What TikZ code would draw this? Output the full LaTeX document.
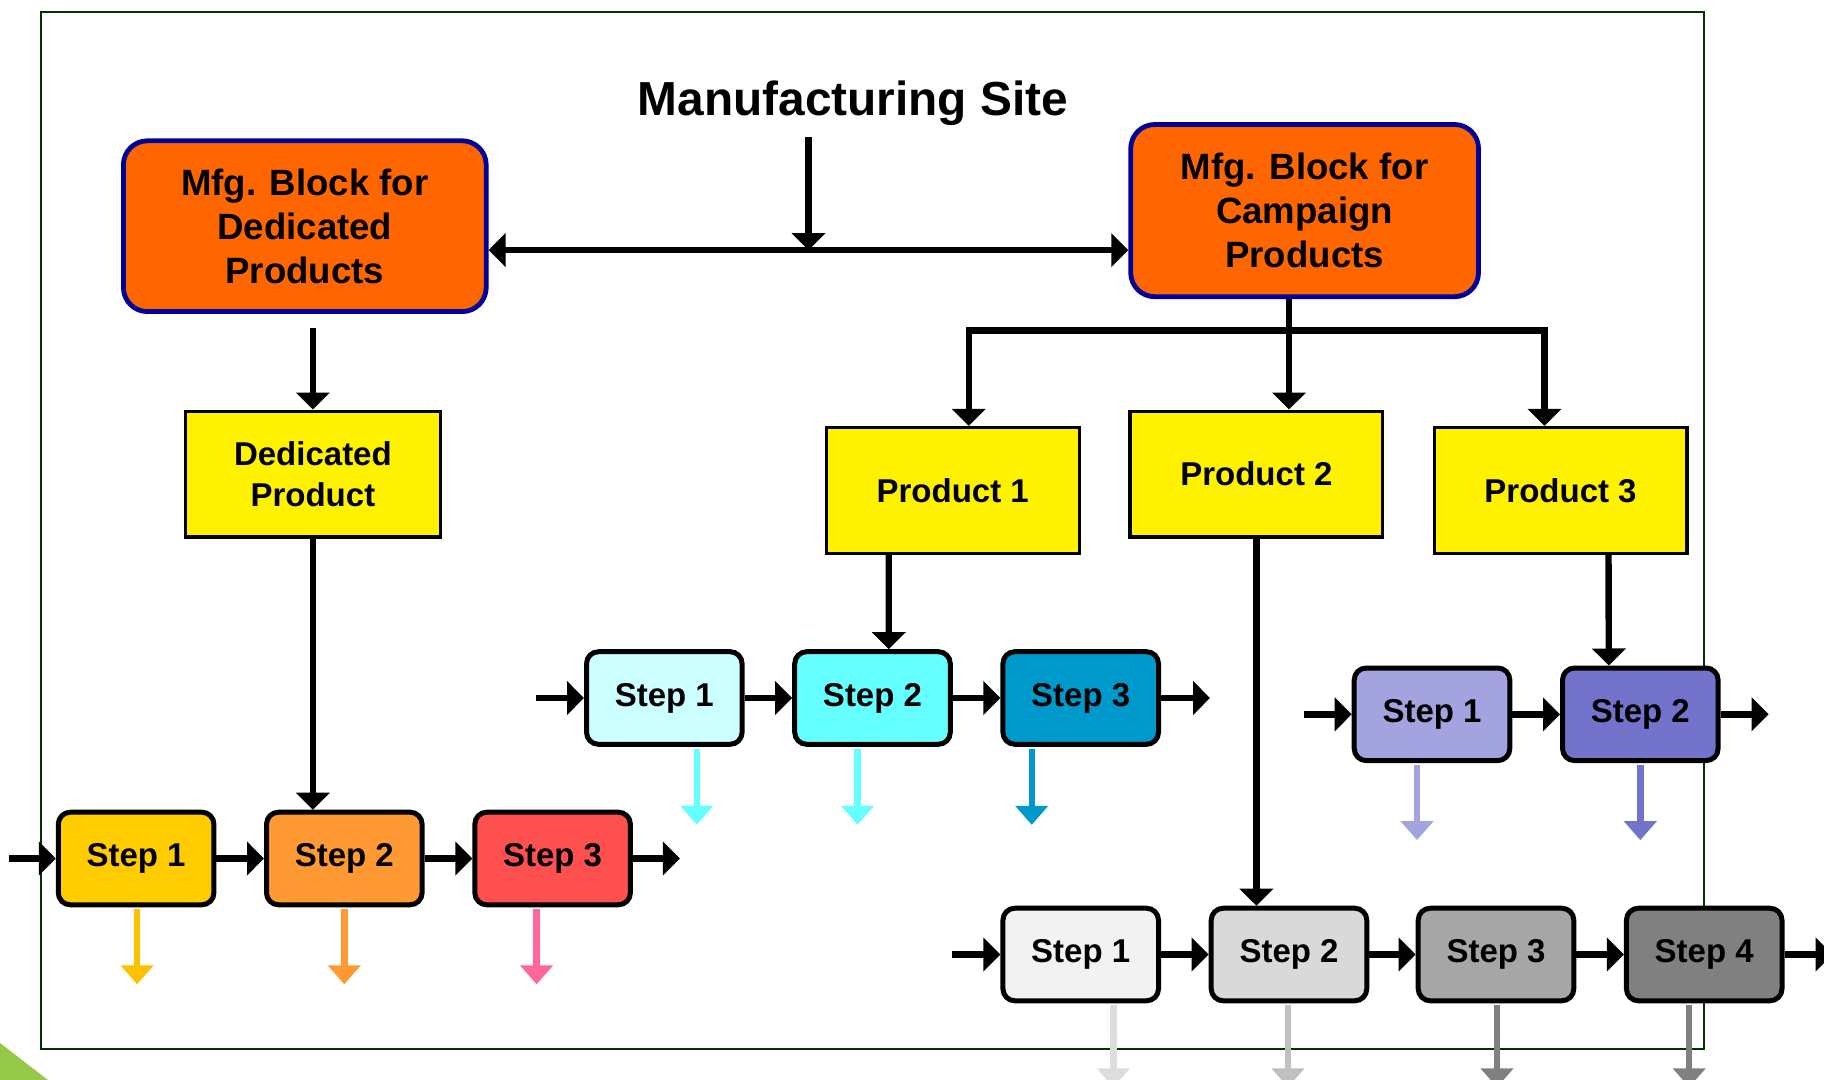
\documentclass[tikz,border=0pt]{standalone}
\usepackage{fontspec}
\setmainfont{Liberation Sans}
\usetikzlibrary{arrows.meta,calc}
\definecolor{mfgorange}{HTML}{FF6600}
\definecolor{mfgblue}{HTML}{000099}
\definecolor{frameg}{HTML}{003300}
\definecolor{leafg}{HTML}{96C84A}
\definecolor{dsa}{HTML}{FFCC00}
\definecolor{dsb}{HTML}{FF9933}
\definecolor{dsc}{HTML}{FF5050}
\definecolor{dda}{HTML}{FFC000}
\definecolor{ddc}{HTML}{FF6699}
\definecolor{csa}{HTML}{CCFFFF}
\definecolor{csb}{HTML}{66FFFF}
\definecolor{csc}{HTML}{0099CC}
\definecolor{vsa}{HTML}{A3A3E0}
\definecolor{vsb}{HTML}{7373CC}
\definecolor{gsa}{HTML}{F2F2F2}
\definecolor{gsb}{HTML}{D9D9D9}
\definecolor{gsc}{HTML}{A6A6A6}
\definecolor{gsd}{HTML}{808080}
\definecolor{gda}{HTML}{DDDDDD}
\definecolor{gdb}{HTML}{C0C0C0}
\tikzset{
  % orange block with navy rim
  blockbox/.style = {rectangle, rounded corners=12pt, draw=mfgblue, fill=mfgorange, line width=2.4pt,
                     align=center, font=\bfseries\fontsize{18.3}{22}\selectfont},
  prodbox/.style  = {rectangle, draw=black, fill=yellow, line width=1.6pt, align=center,
                     minimum width=126.4pt, minimum height=62.9pt, font=\bfseries\fontsize{16.5}{20.4}\selectfont},
  stepbox/.style  = {rectangle, rounded corners=6pt, draw=black, fill=#1, line width=2.5pt,
                     minimum width=77.8pt, minimum height=46.3pt, font=\bfseries\fontsize{16.5}{20}\selectfont},
  sitetitle/.style = {anchor=base, font=\bfseries\fontsize{23.9}{28}\selectfont},
  arr/.style    = {-{Triangle[length=8.5pt,width=16.5pt]}, line width=3.2pt},
  dblarr/.style = {{Triangle[length=8.5pt,width=16.5pt]}-{Triangle[length=8.5pt,width=16.5pt]}, line width=3.2pt},
  drain/.style  = {-{Triangle[length=9.5pt,width=16pt]}, line width=3.2pt, draw=#1},
  frame/.style  = {draw=frameg, line width=1pt},
}
\begin{document}
\begin{tikzpicture}[x=0.5pt, y=-0.5pt]
\useasboundingbox (0,0) rectangle (1824,1080);
\clip (0,0) rectangle (1824,1080);
\fill[leafg] (0,1043) -- (48,1080) -- (0,1080) -- cycle;
\draw[frame] (41,12) rectangle (1704,1049);

\node[sitetitle] (site) at (853,116) {Manufacturing Site};
\node[blockbox, minimum width=181.4pt, minimum height=85.4pt] (lblk) at (304.8,226.2) {Mfg. Block for\\Dedicated\\Products};
\node[blockbox, minimum width=173.9pt, minimum height=86.1pt] (rblk) at (1304.6,210.6) {Mfg. Block for\\Campaign\\Products};

\node[prodbox, minimum width=127.5pt] (ded) at (312.9,474) {Dedicated\\Product};
\node[prodbox] (p1) at (952.7,490.4) {Product 1};
\node[prodbox] (p2) at (1256.4,474) {Product 2};
\node[prodbox] (p3) at (1560.5,490.4) {Product 3};

% dedicated line
\node[stepbox=dsa] (d1) at (136.1,858.5) {Step 1};
\node[stepbox=dsb] (d2) at (344.3,858.5) {Step 2};
\node[stepbox=dsc] (d3) at (552.6,858.5) {Step 3};
% product 1 line
\node[stepbox=csa] (c1) at (664.3,698) {Step 1};
\node[stepbox=csb] (c2) at (872.5,698) {Step 2};
\node[stepbox=csc] (c3) at (1080.7,698) {Step 3};
% product 3 line
\node[stepbox=vsa] (v1) at (1432,714.3) {Step 1};
\node[stepbox=vsb] (v2) at (1640.3,714.3) {Step 2};
% product 2 line
\node[stepbox=gsa] (g1) at (1080.7,954.5) {Step 1};
\node[stepbox=gsb] (g2) at (1289,954.5) {Step 2};
\node[stepbox=gsc] (g3) at (1496,954.5) {Step 3};
\node[stepbox=gsd] (g4) at (1704.2,954.5) {Step 4};

% site splits to both blocks
\coordinate (top) at (808.5,137);
\coordinate (hub) at (808.5,250.1);
\draw[dblarr] (hub -| lblk.east) -- (hub -| rblk.west);
\draw[arr] (top) -- (hub);

\draw[arr] ($(lblk.south -| ded.north)+(0,14)$) -- (ded.north);
\draw[arr] (ded.south) -- (ded.south |- d2.north);

\coordinate (fork) at (1289,330.4);
\draw[arr] (rblk.south -| fork) -- (fork |- p2.north);
\draw[arr, line join=miter] (fork) -| ($(p1.north)+(16,0)$);
\draw[arr, line join=miter] (fork) -| ($(p3.north)+(-16,0)$);

\draw[arr] ($(p1.south)+(-64,0)$) -- ($(c2.north)+(16.3,0)$);
\draw[arr] (p2.south) -- (p2.south |- g2.north);
\draw[arr] ($(p3.south)+(48,0)$) -- ($(v2.north)+(-31.5,0)$);

% flow through the steps
\draw[arr] ($(d1.west)+(-47,0)$) -- (d1.west);
\draw[arr] (d1) -- (d2);
\draw[arr] (d2) -- (d3);
\draw[arr] (d3.east) -- ++(47,0);
\draw[arr] ($(c1.west)+(-48,0)$) -- (c1.west);
\draw[arr] (c1) -- (c2);
\draw[arr] (c2) -- (c3);
\draw[arr] (c3.east) -- ++(49,0);
\draw[arr] ($(v1.west)+(-48,0)$) -- (v1.west);
\draw[arr] (v1) -- (v2);
\draw[arr] (v2.east) -- ++(48,0);
\draw[arr] ($(g1.west)+(-48,0)$) -- (g1.west);
\draw[arr] (g1) -- (g2);
\draw[arr] (g2) -- (g3);
\draw[arr] (g3) -- (g4);
\draw[arr] (g4.east) -- ++(48,0);

% outputs of each step
\draw[drain=dda] ($(d1.south)+(1,2)$) -- ++(0,75);
\draw[drain=dsb] ($(d2.south)+(0,2)$) -- ++(0,75);
\draw[drain=ddc] ($(d3.south)+(-16,2)$) -- ++(0,75);
\draw[drain=csb] ($(c1.south)+(32.5,2)$) -- ++(0,76);
\draw[drain=csb] ($(c2.south)+(-15,2)$) -- ++(0,76);
\draw[drain=csc] ($(c3.south)+(-49,2)$) -- ++(0,76);
\draw[drain=vsa] ($(v1.south)+(-15,2)$) -- ++(0,75);
\draw[drain=vsb] ($(v2.south)+(0,2)$) -- ++(0,75);
\draw[drain=gda] ($(g1.south)+(32.6,2)$) -- ++(0,82);
\draw[drain=gdb] ($(g2.south)+(-1,2)$) -- ++(0,82);
\draw[drain=gsd] ($(g3.south)+(1,2)$) -- ++(0,82);
\draw[drain=gsd] ($(g4.south)+(-15,2)$) -- ++(0,82);
\end{tikzpicture}
\end{document}
